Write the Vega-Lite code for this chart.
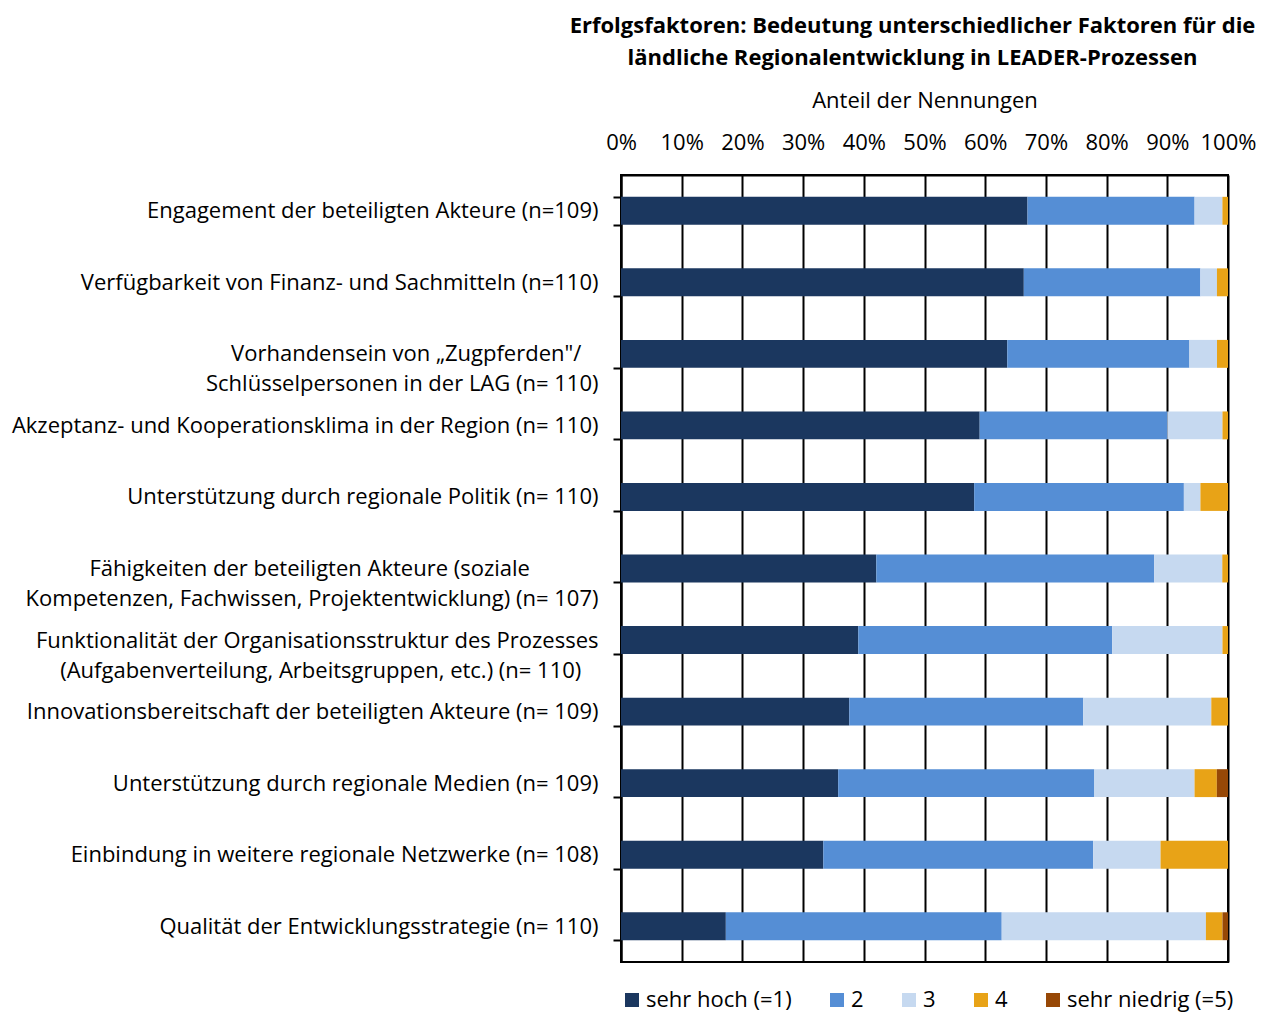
{
  "$schema": "https://vega.github.io/schema/vega-lite/v6.json",
  "autosize": {"type": "none"},
  "padding": {"left": 621, "top": 175, "right": 38, "bottom": 52},
  "width": 607,
  "height": 787,
  "background": "white",
  "title": {
    "text": ["Erfolgsfaktoren: Bedeutung unterschiedlicher Faktoren für die", "ländliche Regionalentwicklung in LEADER-Prozessen"],
    "anchor": "middle",
    "frame": "group",
    "dx": -12,
    "font": "Open Sans",
    "fontSize": 22,
    "fontWeight": "bold",
    "lineHeight": 32,
    "offset": 19,
    "color": "black"
  },
  "data": {
    "values": [
      {"f": "Engagement der beteiligten Akteure (n=109)", "stufe": "sehr hoch (=1)", "r": 1, "anteil": 66.97},
      {"f": "Engagement der beteiligten Akteure (n=109)", "stufe": "2", "r": 2, "anteil": 27.52},
      {"f": "Engagement der beteiligten Akteure (n=109)", "stufe": "3", "r": 3, "anteil": 4.59},
      {"f": "Engagement der beteiligten Akteure (n=109)", "stufe": "4", "r": 4, "anteil": 0.92},
      {"f": "Verfügbarkeit von Finanz- und Sachmitteln (n=110)", "stufe": "sehr hoch (=1)", "r": 1, "anteil": 66.36},
      {"f": "Verfügbarkeit von Finanz- und Sachmitteln (n=110)", "stufe": "2", "r": 2, "anteil": 29.09},
      {"f": "Verfügbarkeit von Finanz- und Sachmitteln (n=110)", "stufe": "3", "r": 3, "anteil": 2.73},
      {"f": "Verfügbarkeit von Finanz- und Sachmitteln (n=110)", "stufe": "4", "r": 4, "anteil": 1.82},
      {"f": "Vorhandensein von „Zugpferden\"/|Schlüsselpersonen in der LAG (n= 110)", "stufe": "sehr hoch (=1)", "r": 1, "anteil": 63.64},
      {"f": "Vorhandensein von „Zugpferden\"/|Schlüsselpersonen in der LAG (n= 110)", "stufe": "2", "r": 2, "anteil": 30.0},
      {"f": "Vorhandensein von „Zugpferden\"/|Schlüsselpersonen in der LAG (n= 110)", "stufe": "3", "r": 3, "anteil": 4.55},
      {"f": "Vorhandensein von „Zugpferden\"/|Schlüsselpersonen in der LAG (n= 110)", "stufe": "4", "r": 4, "anteil": 1.81},
      {"f": "Akzeptanz- und Kooperationsklima in der Region (n= 110)", "stufe": "sehr hoch (=1)", "r": 1, "anteil": 59.09},
      {"f": "Akzeptanz- und Kooperationsklima in der Region (n= 110)", "stufe": "2", "r": 2, "anteil": 30.91},
      {"f": "Akzeptanz- und Kooperationsklima in der Region (n= 110)", "stufe": "3", "r": 3, "anteil": 9.09},
      {"f": "Akzeptanz- und Kooperationsklima in der Region (n= 110)", "stufe": "4", "r": 4, "anteil": 0.91},
      {"f": "Unterstützung durch regionale Politik  (n= 110)", "stufe": "sehr hoch (=1)", "r": 1, "anteil": 58.18},
      {"f": "Unterstützung durch regionale Politik  (n= 110)", "stufe": "2", "r": 2, "anteil": 34.55},
      {"f": "Unterstützung durch regionale Politik  (n= 110)", "stufe": "3", "r": 3, "anteil": 2.73},
      {"f": "Unterstützung durch regionale Politik  (n= 110)", "stufe": "4", "r": 4, "anteil": 4.54},
      {"f": "Fähigkeiten der beteiligten Akteure (soziale|Kompetenzen, Fachwissen, Projektentwicklung) (n= 107)", "stufe": "sehr hoch (=1)", "r": 1, "anteil": 42.06},
      {"f": "Fähigkeiten der beteiligten Akteure (soziale|Kompetenzen, Fachwissen, Projektentwicklung) (n= 107)", "stufe": "2", "r": 2, "anteil": 45.79},
      {"f": "Fähigkeiten der beteiligten Akteure (soziale|Kompetenzen, Fachwissen, Projektentwicklung) (n= 107)", "stufe": "3", "r": 3, "anteil": 11.21},
      {"f": "Fähigkeiten der beteiligten Akteure (soziale|Kompetenzen, Fachwissen, Projektentwicklung) (n= 107)", "stufe": "4", "r": 4, "anteil": 0.94},
      {"f": "Funktionalität der Organisationsstruktur des Prozesses|(Aufgabenverteilung, Arbeitsgruppen, etc.) (n= 110)", "stufe": "sehr hoch (=1)", "r": 1, "anteil": 39.09},
      {"f": "Funktionalität der Organisationsstruktur des Prozesses|(Aufgabenverteilung, Arbeitsgruppen, etc.) (n= 110)", "stufe": "2", "r": 2, "anteil": 41.82},
      {"f": "Funktionalität der Organisationsstruktur des Prozesses|(Aufgabenverteilung, Arbeitsgruppen, etc.) (n= 110)", "stufe": "3", "r": 3, "anteil": 18.18},
      {"f": "Funktionalität der Organisationsstruktur des Prozesses|(Aufgabenverteilung, Arbeitsgruppen, etc.) (n= 110)", "stufe": "4", "r": 4, "anteil": 0.91},
      {"f": "Innovationsbereitschaft der beteiligten Akteure (n= 109)", "stufe": "sehr hoch (=1)", "r": 1, "anteil": 37.61},
      {"f": "Innovationsbereitschaft der beteiligten Akteure (n= 109)", "stufe": "2", "r": 2, "anteil": 38.53},
      {"f": "Innovationsbereitschaft der beteiligten Akteure (n= 109)", "stufe": "3", "r": 3, "anteil": 21.11},
      {"f": "Innovationsbereitschaft der beteiligten Akteure (n= 109)", "stufe": "4", "r": 4, "anteil": 2.75},
      {"f": "Unterstützung durch regionale Medien (n= 109)", "stufe": "sehr hoch (=1)", "r": 1, "anteil": 35.78},
      {"f": "Unterstützung durch regionale Medien (n= 109)", "stufe": "2", "r": 2, "anteil": 42.2},
      {"f": "Unterstützung durch regionale Medien (n= 109)", "stufe": "3", "r": 3, "anteil": 16.51},
      {"f": "Unterstützung durch regionale Medien (n= 109)", "stufe": "4", "r": 4, "anteil": 3.67},
      {"f": "Unterstützung durch regionale Medien (n= 109)", "stufe": "sehr niedrig (=5)", "r": 5, "anteil": 1.84},
      {"f": "Einbindung in weitere regionale Netzwerke (n= 108)", "stufe": "sehr hoch (=1)", "r": 1, "anteil": 33.33},
      {"f": "Einbindung in weitere regionale Netzwerke (n= 108)", "stufe": "2", "r": 2, "anteil": 44.45},
      {"f": "Einbindung in weitere regionale Netzwerke (n= 108)", "stufe": "3", "r": 3, "anteil": 11.11},
      {"f": "Einbindung in weitere regionale Netzwerke (n= 108)", "stufe": "4", "r": 4, "anteil": 11.11},
      {"f": "Qualität der Entwicklungsstrategie (n= 110)", "stufe": "sehr hoch (=1)", "r": 1, "anteil": 17.27},
      {"f": "Qualität der Entwicklungsstrategie (n= 110)", "stufe": "2", "r": 2, "anteil": 45.45},
      {"f": "Qualität der Entwicklungsstrategie (n= 110)", "stufe": "3", "r": 3, "anteil": 33.64},
      {"f": "Qualität der Entwicklungsstrategie (n= 110)", "stufe": "4", "r": 4, "anteil": 2.73},
      {"f": "Qualität der Entwicklungsstrategie (n= 110)", "stufe": "sehr niedrig (=5)", "r": 5, "anteil": 0.91}
    ]
  },
  "mark": {"type": "bar"},
  "encoding": {
    "y": {
      "field": "f",
      "type": "nominal",
      "sort": null,
      "scale": {"paddingInner": 0.61, "paddingOuter": 0.305},
      "axis": {
        "title": null,
        "labelExpr": "indexof(datum.label, '|') < 0 ? datum.label : [split(datum.label, '|')[0] + (indexof(datum.label, 'Zugpf') >= 0 ? '\u00a0\u00a0\u00a0\u200b' : indexof(datum.label, 'soziale') >= 0 ? '\u00a0\u00a0\u00a0\u00a0\u00a0\u00a0\u00a0\u00a0\u00a0\u00a0\u00a0\u00a0\u200b' : ''), split(datum.label, '|')[1] + (indexof(datum.label, 'Aufgaben') >= 0 ? '\u00a0\u00a0\u00a0\u200b' : '')]",
        "labelFont": "Open Sans",
        "labelFontSize": 22,
        "labelColor": "black",
        "labelLineHeight": 30,
        "labelLimit": 0,
        "labelPadding": 15,
        "tickBand": "extent",
        "tickSize": 8,
        "tickWidth": 2,
        "tickColor": "black",
        "domainColor": "black",
        "domainWidth": 2,
        "grid": false
      }
    },
    "x": {
      "field": "anteil",
      "type": "quantitative",
      "stack": "zero",
      "scale": {"domain": [0, 100], "nice": false},
      "axis": {
        "orient": "top",
        "title": "Anteil der Nennungen",
        "titleFont": "Open Sans",
        "titleFontSize": 22,
        "titleFontWeight": "normal",
        "titleColor": "black",
        "titlePadding": 19,
        "values": [0, 10, 20, 30, 40, 50, 60, 70, 80, 90, 100],
        "labelExpr": "datum.value + '%'",
        "labelFont": "Open Sans",
        "labelFontSize": 22,
        "labelColor": "black",
        "labelPadding": 21,
        "labelFlush": false,
        "ticks": false,
        "grid": true,
        "gridColor": "black",
        "gridWidth": 2,
        "gridOpacity": 1,
        "domainColor": "black",
        "domainWidth": 2
      }
    },
    "color": {
      "field": "stufe",
      "type": "nominal",
      "scale": {
        "domain": ["sehr hoch (=1)", "2", "3", "4", "sehr niedrig (=5)"],
        "range": ["#1b375f", "#558ed5", "#c6d9f0", "#e8a317", "#974806"]
      },
      "legend": {
        "title": null,
        "orient": "bottom",
        "direction": "horizontal",
        "symbolType": "square",
        "symbolSize": 196,
        "symbolStrokeWidth": 0,
        "symbolOpacity": 1,
        "labelFont": "Open Sans",
        "labelFontSize": 22,
        "labelColor": "black",
        "labelLimit": 0,
        "labelOffset": 3,
        "columnPadding": 34,
        "offset": 27
      }
    },
    "order": {"field": "r", "type": "quantitative"}
  },
  "config": {
    "view": {"stroke": "black", "strokeWidth": 2},
    "bar": {"stroke": null}
  }
}
